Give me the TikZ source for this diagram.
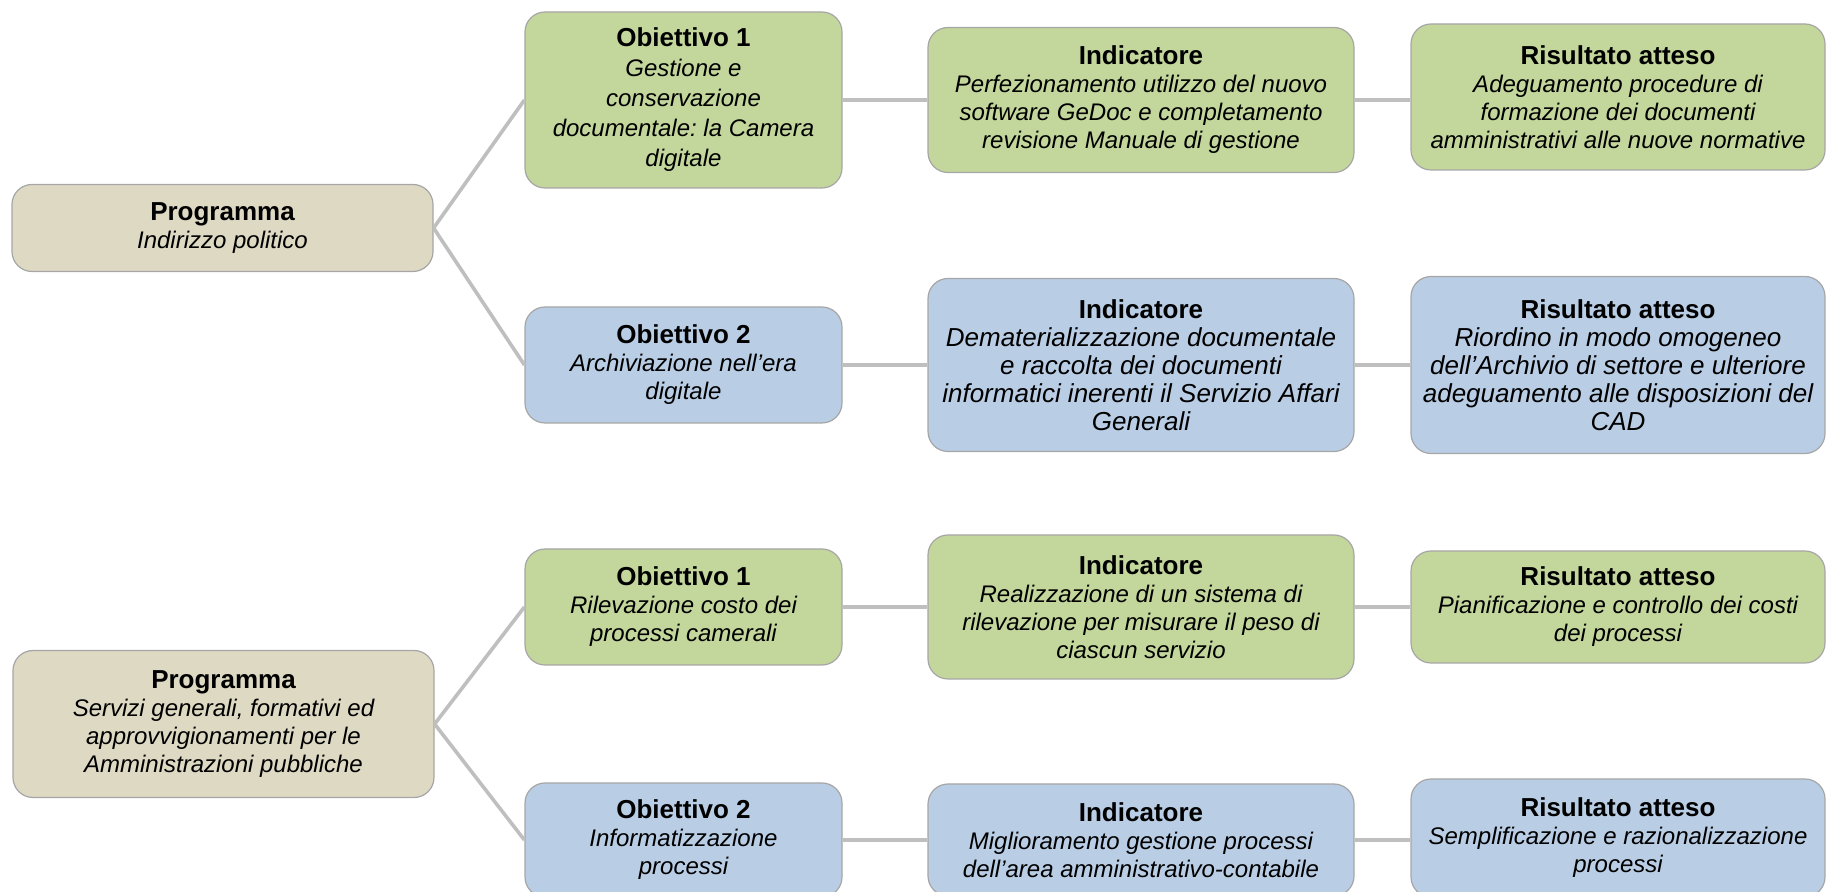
\documentclass[tikz,border=0pt]{standalone}
\usepackage{fontspec}
\setmainfont{Liberation Sans}
\frenchspacing
\definecolor{progfill}{RGB}{221,217,195}
\definecolor{greenfill}{RGB}{195,214,155}
\definecolor{bluefill}{RGB}{185,205,229}
\definecolor{boxline}{RGB}{166,166,166}
\definecolor{linkgray}{RGB}{191,191,191}
\newcommand{\hd}[1]{{\fontsize{13}{15}\selectfont\bfseries\upshape #1}}
\begin{document}
\begin{tikzpicture}[x=0.5pt,y=-0.5pt,
  box/.style={draw=boxline, line width=0.6pt, rounded corners=10pt, align=center, inner sep=2pt, font=\fontsize{12}{14}\selectfont\itshape},
  prog/.style={box, fill=progfill, minimum width=210.5pt},
  obj/.style={box, minimum width=158.5pt},
  ind/.style={box, minimum width=213pt},
  ris/.style={box, minimum width=207pt},
  big/.style={font=\fontsize{13}{14}\selectfont\itshape},
  loose/.style={font=\fontsize{12}{15}\selectfont\itshape},
  link/.style={draw=linkgray, line width=1.8pt}]
\clip (0,0) rectangle (1827,892);
\node[prog, minimum height=43.5pt] (prog1) at (222.5,228) {\hd{Programma}\\Indirizzo politico};
\node[obj, loose, fill=greenfill, minimum height=88pt] (obj1) at (683.5,100) {\hd{Obiettivo 1}\\Gestione e\\conservazione\\documentale: la Camera\\digitale};
\node[ind, fill=greenfill, minimum height=72.5pt] (ind1) at (1141,100) {\hd{Indicatore}\\Perfezionamento utilizzo del nuovo\\software GeDoc e completamento\\revisione Manuale di gestione};
\node[ris, fill=greenfill, minimum height=73pt] (ris1) at (1618,97) {\hd{Risultato atteso}\\Adeguamento procedure di\\formazione dei documenti\\amministrativi alle nuove normative};
\node[obj, fill=bluefill, minimum height=58pt] (obj2) at (683.5,365) {\hd{Obiettivo 2}\\Archiviazione nell’era\\digitale};
\node[ind, big, fill=bluefill, minimum height=86.5pt] (ind2) at (1141,365) {\hd{Indicatore}\\Dematerializzazione documentale\\e raccolta dei documenti\\informatici inerenti il Servizio Affari\\Generali};
\node[ris, big, fill=bluefill, minimum height=88.5pt] (ris2) at (1618,365) {\hd{Risultato atteso}\\Riordino in modo omogeneo\\dell’Archivio di settore e ulteriore\\adeguamento alle disposizioni del\\CAD};
\node[prog, minimum height=73.5pt] (prog2) at (223.5,724) {\hd{Programma}\\Servizi generali, formativi ed\\approvvigionamenti per le\\Amministrazioni pubbliche};
\node[obj, fill=greenfill, minimum height=58pt] (obj3) at (683.5,607) {\hd{Obiettivo 1}\\Rilevazione costo dei\\processi camerali};
\node[ind, fill=greenfill, minimum height=72pt] (ind3) at (1141,607) {\hd{Indicatore}\\Realizzazione di un sistema di\\rilevazione per misurare il peso di\\ciascun servizio};
\node[ris, fill=greenfill, minimum height=56pt] (ris3) at (1618,607) {\hd{Risultato atteso}\\Pianificazione e controllo dei costi\\dei processi};
\node[obj, fill=bluefill, minimum height=57pt] (obj4) at (683.5,840) {\hd{Obiettivo 2}\\Informatizzazione\\processi};
\node[ind, fill=bluefill, minimum height=56pt] (ind4) at (1141,840) {\hd{Indicatore}\\Miglioramento gestione processi\\dell’area amministrativo-contabile};
\node[ris, fill=bluefill, minimum height=59pt] (ris4) at (1618,838) {\hd{Risultato atteso}\\Semplificazione e razionalizzazione\\processi};
\draw[link] (prog1.east) -- (obj1.west);
\draw[link] (prog1.east) -- (obj2.west);
\draw[link] (prog2.east) -- (obj3.west);
\draw[link] (prog2.east) -- (obj4.west);
\draw[link] (obj1.east) -- (ind1.west);
\draw[link] (ind1.east) -- (ind1.east -| ris1.west);
\draw[link] (obj2.east) -- (ind2.west);
\draw[link] (ind2.east) -- (ris2.west);
\draw[link] (obj3.east) -- (ind3.west);
\draw[link] (ind3.east) -- (ris3.west);
\draw[link] (obj4.east) -- (ind4.west);
\draw[link] (ind4.east) -- (ind4.east -| ris4.west);
\end{tikzpicture}
\end{document}
